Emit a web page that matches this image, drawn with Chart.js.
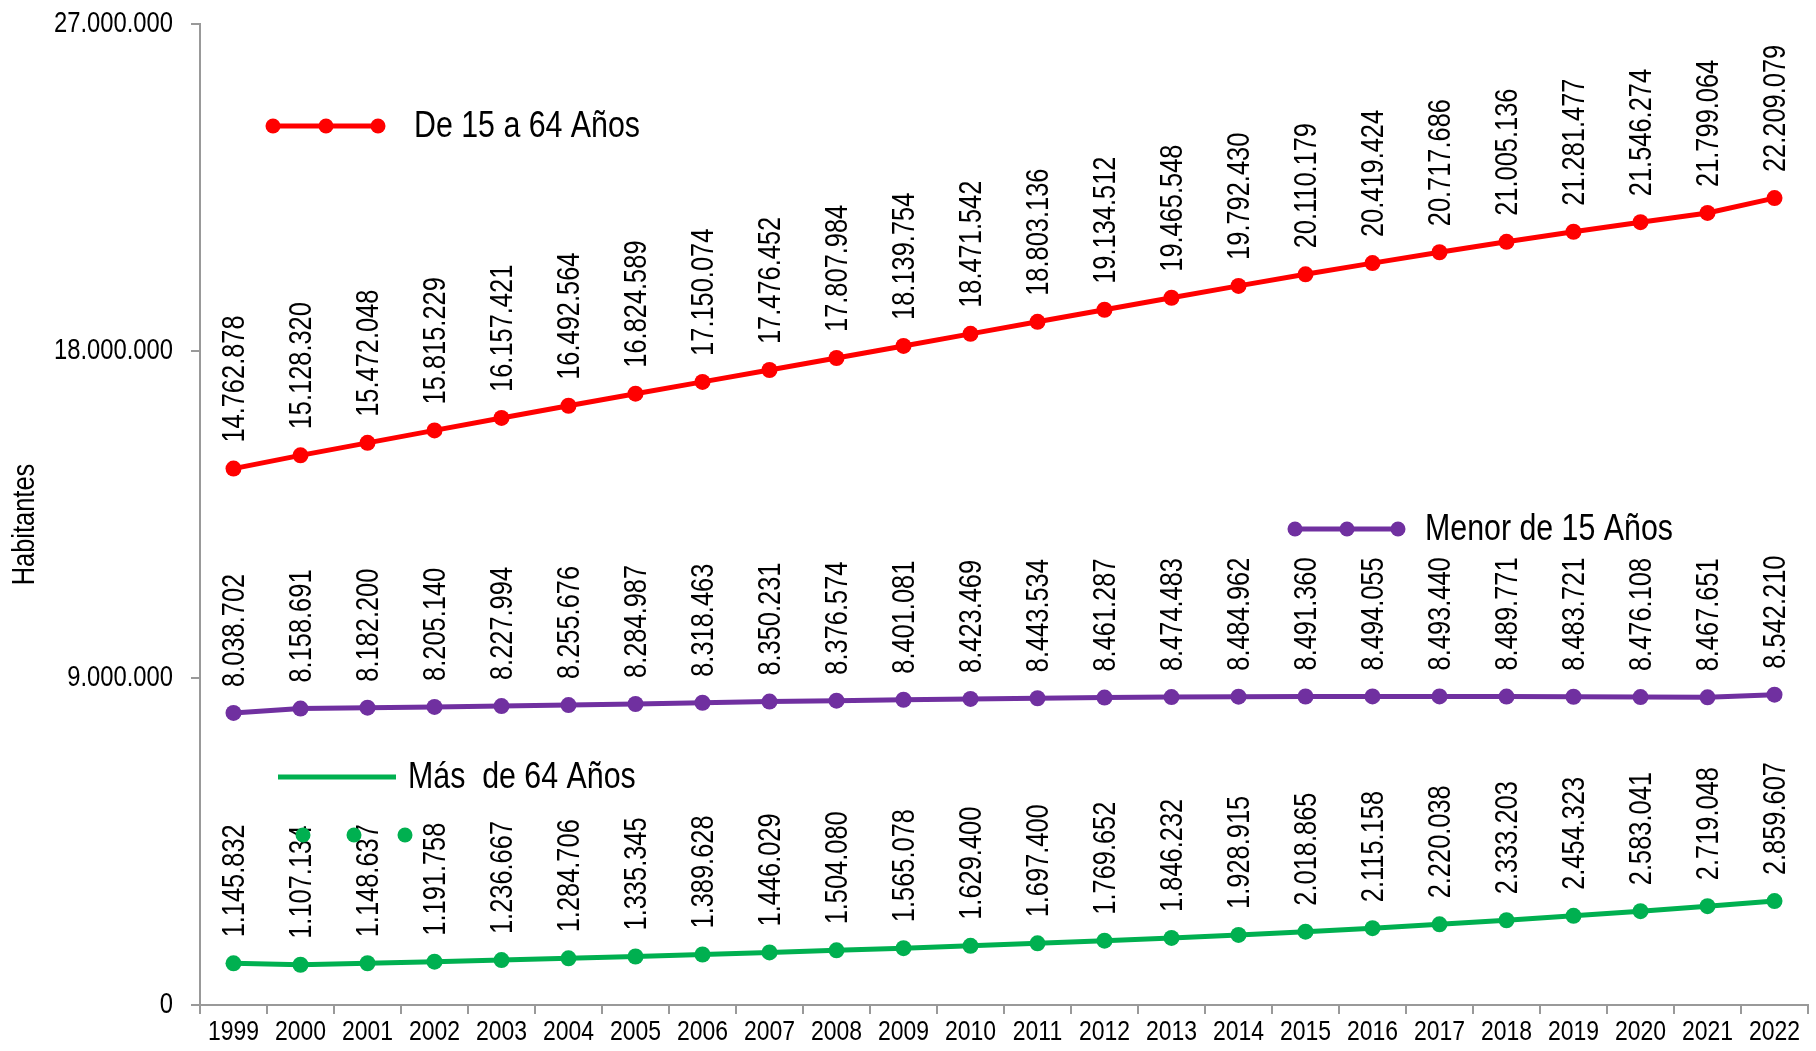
<!DOCTYPE html>
<html>
<head>
<meta charset="utf-8">
<script src="https://cdn.jsdelivr.net/npm/chart.js@4.4.1/dist/chart.umd.min.js"></script>
<style>
  body { margin: 0; background: #fff; }
  canvas { display: block; }
</style>
</head>
<body>
<canvas id="chart" width="1816" height="1051"></canvas>
<script>
// datos de poblacion por grupo de edad
const years = ['1999', '2000', '2001', '2002', '2003', '2004', '2005', '2006', '2007', '2008', '2009', '2010',
  '2011', '2012', '2013', '2014', '2015', '2016', '2017', '2018', '2019', '2020', '2021', '2022'];
const de15a64 = [14762878, 15128320, 15472048, 15815229, 16157421, 16492564, 16824589, 17150074, 17476452, 17807984,
  18139754, 18471542, 18803136, 19134512, 19465548, 19792430, 20110179, 20419424, 20717686, 21005136,
  21281477, 21546274, 21799064, 22209079];
const menor15 = [8038702, 8158691, 8182200, 8205140, 8227994, 8255676, 8284987, 8318463, 8350231, 8376574,
  8401081, 8423469, 8443534, 8461287, 8474483, 8484962, 8491360, 8494055, 8493440, 8489771,
  8483721, 8476108, 8467651, 8542210];
const mas64 = [1145832, 1107134, 1148637, 1191758, 1236667, 1284706, 1335345, 1389628, 1446029, 1504080,
  1565078, 1629400, 1697400, 1769652, 1846232, 1928915, 2018865, 2115158, 2220038, 2333203,
  2454323, 2583041, 2719048, 2859607];
const yMin = 0;
const yMax = 27000000;
const yStep = 9000000;

const FONT = '"Liberation Sans", Arial, sans-serif';
const SQUEEZE = 0.82; // el original usa una letra estrecha (tipo Arial Narrow)
const ROJO = '#FF0000';
const MORADO = '#7030A0';
const VERDE = '#00B050';
const GRIS = '#999999';

// numero con puntos de miles
const fmt = (n) => String(Math.round(n)).replace(/\B(?=(\d{3})+(?!\d))/g, '.');

// texto comprimido a lo ancho
const narrowText = (ctx, text, x, y, size, align, baseline, angle) => {
  ctx.save();
  ctx.translate(x, y);
  if (angle) ctx.rotate(angle);
  ctx.scale(SQUEEZE, 1);
  ctx.font = size + 'px ' + FONT;
  ctx.fillStyle = '#000';
  ctx.textAlign = align;
  ctx.textBaseline = baseline;
  ctx.fillText(text, 0, 0);
  ctx.restore();
};

// etiquetas verticales sobre cada punto
const valueLabels = {
  id: 'valueLabels',
  afterDatasetsDraw(chart) {
    const ctx = chart.ctx;
    chart.data.datasets.forEach((ds, i) => {
      const meta = chart.getDatasetMeta(i);
      meta.data.forEach((pt, j) => {
        narrowText(ctx, fmt(ds.data[j]), pt.x + 2, pt.y - 26, 31, 'left', 'middle', -Math.PI / 2);
      });
    });
  }
};

// textos de los ejes (dibujados estrechos)
const axisText = {
  id: 'axisText',
  afterDraw(chart) {
    const ctx = chart.ctx;
    const yScale = chart.scales.y;
    yScale.ticks.forEach((t, i) => {
      narrowText(ctx, fmt(t.value), yScale.right - 27, yScale.getPixelForTick(i), 29, 'right', 'middle');
    });
    const xScale = chart.scales.x;
    xScale.ticks.forEach((t, i) => {
      narrowText(ctx, xScale.getLabelForValue(t.value), xScale.getPixelForTick(i), xScale.top + 13, 28, 'center', 'top');
    });
    narrowText(ctx, 'Habitantes', 25, (chart.chartArea.top + chart.chartArea.bottom) / 2 + 10, 31, 'center', 'middle', -Math.PI / 2);
  }
};

// leyenda repartida dentro del grafico (como en el original)
const legendItems = [
  { text: 'De 15 a 64 Años', color: ROJO, x1: 273, x2: 378, y: 126, tx: 414, dots: [273, 326, 378], dotY: 126 },
  { text: 'Menor de 15 Años', color: MORADO, x1: 1295, x2: 1398, y: 529, tx: 1425, dots: [1295, 1347, 1398], dotY: 529 },
  { text: 'Más  de 64 Años', color: VERDE, x1: 278, x2: 396, y: 777, tx: 408, dots: [303, 354, 405], dotY: 835 }
];

const floatingLegend = {
  id: 'floatingLegend',
  afterDraw(chart) {
    const ctx = chart.ctx;
    legendItems.forEach(item => {
      ctx.save();
      ctx.strokeStyle = item.color;
      ctx.lineWidth = 5;
      ctx.beginPath();
      ctx.moveTo(item.x1, item.y);
      ctx.lineTo(item.x2, item.y);
      ctx.stroke();
      ctx.fillStyle = item.color;
      item.dots.forEach(dx => {
        ctx.beginPath();
        ctx.arc(dx, item.dotY, 7.5, 0, Math.PI * 2);
        ctx.fill();
      });
      ctx.restore();
      narrowText(ctx, item.text, item.tx, item.y + 1, 37, 'left', 'middle');
    });
  }
};

const serie = (label, data, color) => ({
  label: label,
  data: data,
  borderColor: color,
  backgroundColor: color,
  borderWidth: 5,
  pointRadius: 8,
  pointHoverRadius: 8,
  pointBorderWidth: 0,
  tension: 0
});

const chart = new Chart(document.getElementById('chart').getContext('2d'), {
  type: 'line',
  data: {
    labels: years,
    datasets: [
      serie('De 15 a 64 Años', de15a64, ROJO),
      serie('Menor de 15 Años', menor15, MORADO),
      serie('Más  de 64 Años', mas64, VERDE)
    ]
  },
  options: {
    responsive: false,
    animation: false,
    devicePixelRatio: 1,
    layout: { padding: { top: 24, right: 0, bottom: 0, left: 0 } },
    plugins: {
      legend: { display: false },
      tooltip: { enabled: false }
    },
    scales: {
      x: {
        offset: true,
        grid: { offset: true, drawOnChartArea: false, drawTicks: true, tickLength: 9, color: GRIS, lineWidth: 2 },
        border: { display: true, color: GRIS, width: 2 },
        ticks: { display: false, autoSkip: false },
        afterFit: (s) => { s.height = 46; }
      },
      y: {
        min: yMin,
        max: yMax,
        grid: { drawOnChartArea: false, drawTicks: true, tickLength: 9, color: GRIS, lineWidth: 2 },
        border: { display: true, color: GRIS, width: 2 },
        ticks: { display: false, stepSize: yStep },
        afterFit: (s) => { s.width = 200; }
      }
    }
  },
  plugins: [valueLabels, axisText, floatingLegend]
});
</script>
</body>
</html>
